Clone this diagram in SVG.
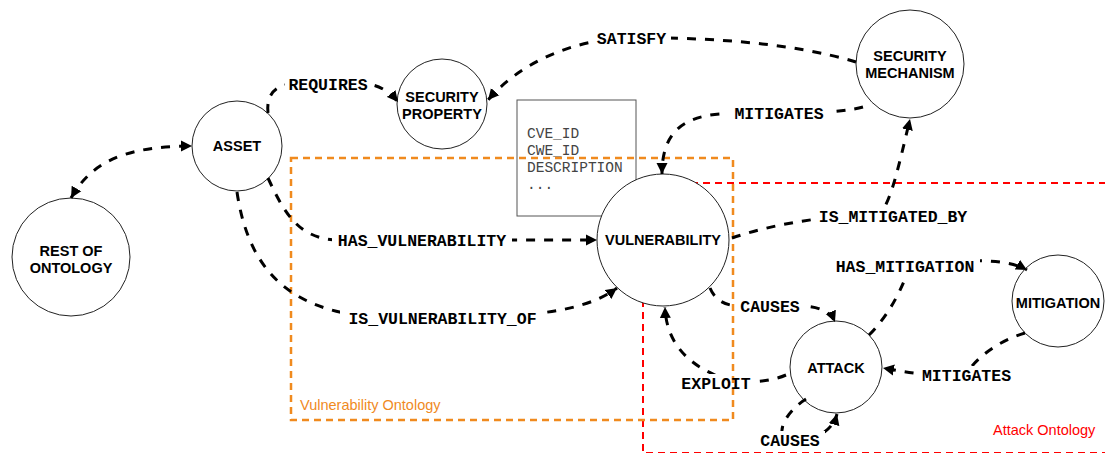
<svg xmlns="http://www.w3.org/2000/svg" width="1105" height="453" viewBox="0 0 1105 453">
<style>
.node circle{fill:#fff;stroke:#222;stroke-width:1}
.node text{font-family:"Liberation Sans",Arial,sans-serif;font-weight:bold;font-size:14.5px;fill:#000;text-anchor:middle}
.edge{fill:none;stroke:#000;stroke-width:3;stroke-dasharray:9 9}
.lbl{font-family:"Liberation Mono","Courier New",monospace;font-weight:bold;font-size:16.5px;fill:#000;text-anchor:middle}
.attr{font-family:"Liberation Mono","Courier New",monospace;font-size:14.5px;fill:#444}
.cont{font-family:"Liberation Sans",Arial,sans-serif;font-size:14.5px}
</style>
<defs>
<marker id="arr" markerUnits="userSpaceOnUse" markerWidth="12" markerHeight="12" refX="11" refY="5.5" orient="auto-start-reverse" viewBox="0 0 12 11">
<path d="M0,0 L11,5.5 L0,11 z" fill="#000"/>
</marker>
<mask id="lblmask" maskUnits="userSpaceOnUse" x="0" y="0" width="1105" height="453">
<rect x="0" y="0" width="1105" height="453" fill="#fff"/>
<rect x="285" y="75" width="86" height="18" fill="#000"/>
<rect x="592" y="29" width="79" height="18" fill="#000"/>
<rect x="728" y="104" width="102" height="18" fill="#000"/>
<rect x="332" y="231" width="180" height="18" fill="#000"/>
<rect x="340" y="309" width="205" height="18" fill="#000"/>
<rect x="814" y="207" width="158" height="18" fill="#000"/>
<rect x="735" y="297" width="70" height="18" fill="#000"/>
<rect x="676" y="374" width="80" height="18" fill="#000"/>
<rect x="755" y="431" width="70" height="18" fill="#000"/>
<rect x="830" y="257" width="150" height="18" fill="#000"/>
<rect x="916" y="366" width="101" height="18" fill="#000"/>
</mask>
</defs>
<rect x="0" y="0" width="1105" height="453" fill="#fff"/>

<g id="attributes">
<rect x="517" y="100" width="119" height="116" fill="#fff" stroke="#555" stroke-width="1"/>
<text class="attr" x="527" y="138">CVE_ID</text>
<text class="attr" x="527" y="155">CWE_ID</text>
<text class="attr" x="527" y="172">DESCRIPTION</text>
<text class="attr" x="527" y="189">...</text>
</g>

<g id="attack-ontology">
<rect x="643" y="183" width="500" height="270" fill="none" stroke="#f00" stroke-width="2" stroke-dasharray="7 5"/>
<text class="cont" x="993" y="435" fill="#f00">Attack Ontology</text>
</g>
<g id="vulnerability-ontology">
<rect x="291" y="158" width="442" height="262" fill="none" stroke="#f08a1e" stroke-width="2.5" stroke-dasharray="7 5"/>
<text class="cont" x="300" y="410" fill="#f08a1e">Vulnerability Ontology</text>
</g>

<g id="rest-of-ontology" class="node"><circle cx="71" cy="257" r="59"/><text x="71" y="256">REST OF</text><text x="71" y="273">ONTOLOGY</text></g>
<g id="asset" class="node"><circle cx="237" cy="146" r="45"/><text x="237" y="151">ASSET</text></g>
<g id="security-property" class="node"><circle cx="442" cy="104" r="45"/><text x="442" y="102">SECURITY</text><text x="442" y="119">PROPERTY</text></g>
<g id="security-mechanism" class="node"><circle cx="910" cy="64" r="54"/><text x="910" y="61">SECURITY</text><text x="910" y="78">MECHANISM</text></g>
<g id="vulnerability" class="node"><circle cx="663" cy="240" r="66"/><text x="663" y="245">VULNERABILITY</text></g>
<g id="attack" class="node"><circle cx="836" cy="367" r="46"/><text x="836" y="373">ATTACK</text></g>
<g id="mitigation" class="node"><circle cx="1058" cy="301" r="46"/><text x="1058" y="308">MITIGATION</text></g>

<g id="connectors">
<g mask="url(#lblmask)">
<path class="edge" d="M71,198 C90,165 120,146 192,146" marker-start="url(#arr)" marker-end="url(#arr)"/>
<path class="edge" d="M268,113 C266,95 275,84 295,84 L365,84 C378,84 390,92 398,102" marker-end="url(#arr)"/>
<path class="edge" d="M856,62 C790,42 700,37 630,38 C570,39 518,65 488,100" marker-end="url(#arr)"/>
<path class="edge" d="M863,107 C830,116 760,112 720,114 C680,117 662,135 662,174" marker-end="url(#arr)"/>
<path class="edge" d="M268,178 C285,215 300,240 340,240 L597,240" marker-end="url(#arr)"/>
<path class="edge" d="M237,192 C250,280 300,318 400,318 C520,318 580,315 617,288" marker-end="url(#arr)"/>
<path class="edge" d="M732,238 C770,225 820,216 880,214 C892,200 900,160 910,119" marker-end="url(#arr)"/>
<path class="edge" d="M710,288 C715,300 725,306 740,306 L800,306 C815,306 830,310 835,322" marker-end="url(#arr)"/>
<path class="edge" d="M786,375 C765,384 735,384 715,375 C685,362 666,340 665,307" marker-end="url(#arr)"/>
<path class="edge" d="M806,399 C785,412 770,440 795,440 C815,440 832,432 837,414" marker-end="url(#arr)"/>
<path class="edge" d="M869,335 C892,312 903,285 910,266 C950,262 1000,255 1027,270" marker-end="url(#arr)"/>
<path class="edge" d="M1025,333 C995,342 975,360 965,375 C930,377 905,372 883,368" marker-end="url(#arr)"/>
</g>
<text class="lbl" x="328" y="89.5">REQUIRES</text>
<text class="lbl" x="631.5" y="43.5">SATISFY</text>
<text class="lbl" x="779" y="118.5">MITIGATES</text>
<text class="lbl" x="422" y="245.5">HAS_VULNERABILITY</text>
<text class="lbl" x="442.5" y="323.5">IS_VULNERABILITY_OF</text>
<text class="lbl" x="893" y="221.5">IS_MITIGATED_BY</text>
<text class="lbl" x="770" y="311.5">CAUSES</text>
<text class="lbl" x="716" y="388.5">EXPLOIT</text>
<text class="lbl" x="790" y="445.5">CAUSES</text>
<text class="lbl" x="905" y="271.5">HAS_MITIGATION</text>
<text class="lbl" x="966.5" y="380.5">MITIGATES</text>
</g>
</svg>
